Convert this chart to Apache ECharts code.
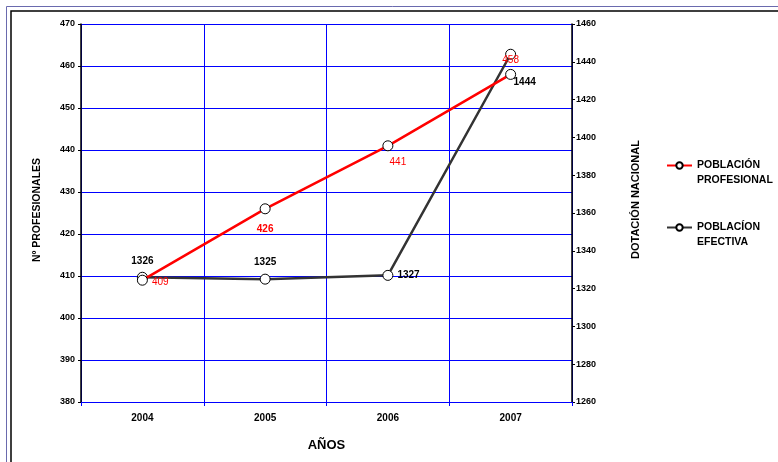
<!DOCTYPE html>
<html>
<head>
<meta charset="utf-8">
<script src="https://cdn.jsdelivr.net/npm/echarts@6/dist/echarts.min.js"></script>
<style>
  html, body { margin: 0; padding: 0; background: #fff; }
  #chart { width: 778px; height: 462px; }
</style>
</head>
<body>
<div id="chart"></div>
<script>
// datos
var years = ['2004', '2005', '2006', '2007'];
var profesional = [409, 426, 441, 458];
var efectiva = [1326, 1325, 1327, 1444];

// posicion de etiquetas por punto
var profLabelPos = ['right', 'bottom', 'bottom', 'top'];
var profLabelOffset = [[0, 2], [0, 6], [10, 2], [0, 0]];
var efecLabelPos = ['top', 'top', 'right', 'bottom'];
var efecLabelOffset = [[0, -2], [0, -2], [0, 0], [14, 14]];

var font = 'Arial, "Liberation Sans", sans-serif';

function buildData(values, pos, off, extra) {
  var out = [];
  for (var i = 0; i < values.length; i++) {
    out.push({
      value: values[i],
      label: Object.assign({ position: pos[i], offset: off[i] }, extra ? extra(i) : {})
    });
  }
  return out;
}

var chart = echarts.init(document.getElementById('chart'));

var option = {
  animation: false,
  backgroundColor: '#fff',
  textStyle: { fontFamily: font },
  graphic: [
    { type: 'rect', shape: { x: 6.5, y: 6.5, width: 800, height: 500 }, style: { fill: 'none', stroke: '#6a6aae', lineWidth: 1 }, silent: true },
    { type: 'rect', shape: { x: 11, y: 11, width: 800, height: 500 }, style: { fill: 'none', stroke: '#000', lineWidth: 1.5 }, silent: true }
  ],
  grid: { left: 81, right: 206, top: 24, bottom: 60, containLabel: false },
  legend: {
    orient: 'vertical',
    left: 666,
    top: 143,
    padding: 0,
    itemGap: 17,
    itemWidth: 25,
    itemHeight: 8,
    data: ['POBLACIÓN\nPROFESIONAL', 'POBLACÍON\nEFECTIVA'],
    // linea vacia arriba para que el icono quede a la altura de la primera linea
    formatter: function (n) { return ' \n' + n; },
    textStyle: { fontFamily: font, fontSize: 10.5, fontWeight: 'bold', color: '#000', lineHeight: 15 }
  },
  xAxis: {
    type: 'category',
    data: years,
    boundaryGap: true,
    name: 'AÑOS',
    nameLocation: 'middle',
    nameGap: 37,
    nameTextStyle: { fontFamily: font, fontSize: 13, fontWeight: 'bold', color: '#000' },
    axisLine: { lineStyle: { color: '#0000ff', width: 1 } },
    axisTick: { show: true, length: 4, lineStyle: { color: '#0000ff' } },
    axisLabel: { fontFamily: font, fontSize: 10, fontWeight: 'bold', color: '#000', margin: 11 },
    splitLine: { show: true, lineStyle: { color: '#0000ff', width: 1 } }
  },
  yAxis: [
    {
      type: 'value',
      min: 380,
      max: 470,
      interval: 10,
      name: 'Nº PROFESIONALES',
      nameLocation: 'middle',
      nameRotate: 90,
      nameGap: 38,
      nameTextStyle: { fontFamily: font, fontSize: 10.5, fontWeight: 'bold', color: '#000', padding: [0, 0, 0, 6] },
      axisLine: { show: true, lineStyle: { color: '#000', width: 1.5 } },
      axisTick: { show: true, length: 3, lineStyle: { color: '#000' } },
      axisLabel: { fontFamily: font, fontSize: 9, fontWeight: 'bold', color: '#000', margin: 6 },
      splitLine: { show: true, lineStyle: { color: '#0000ff', width: 1 } }
    },
    {
      type: 'value',
      min: 1260,
      max: 1460,
      interval: 20,
      position: 'right',
      name: 'DOTACIÓN NACIONAL',
      nameLocation: 'middle',
      nameRotate: 90,
      nameGap: 58,
      nameTextStyle: { fontFamily: font, fontSize: 11, fontWeight: 'bold', color: '#000', padding: [0, 0, 0, 27] },
      axisLine: { show: true, lineStyle: { color: '#000', width: 1.5 } },
      axisTick: { show: true, length: 3, lineStyle: { color: '#000' } },
      axisLabel: {
        fontFamily: font, fontSize: 9, fontWeight: 'bold', color: '#000', margin: 4,
        formatter: function (v) { return String(v); }
      },
      splitLine: { show: false }
    }
  ],
  series: [
    {
      name: 'POBLACIÓN\nPROFESIONAL',
      type: 'line',
      yAxisIndex: 0,
      symbol: 'circle',
      symbolSize: 10,
      lineStyle: { color: '#ff0000', width: 2.5 },
      itemStyle: { color: '#fff', borderColor: '#000', borderWidth: 1 },
      label: { show: true, color: '#ff0000', fontFamily: font, fontSize: 10, distance: 4 },
      data: buildData(profesional, profLabelPos, profLabelOffset, function (i) {
        return i === 1 ? { fontWeight: 'bold' } : {};
      }),
      z: 3
    },
    {
      name: 'POBLACÍON\nEFECTIVA',
      type: 'line',
      yAxisIndex: 1,
      symbol: 'circle',
      symbolSize: 10,
      lineStyle: { color: '#333333', width: 2.5 },
      itemStyle: { color: '#fff', borderColor: '#000', borderWidth: 1 },
      label: { show: true, color: '#000', fontFamily: font, fontSize: 10, fontWeight: 'bold', distance: 4 },
      data: buildData(efectiva, efecLabelPos, efecLabelOffset),
      z: 2
    }
  ]
};

chart.setOption(option);
</script>
</body>
</html>
